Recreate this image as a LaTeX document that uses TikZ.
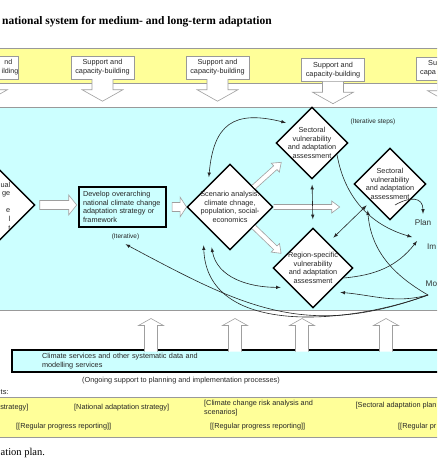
\documentclass[tikz,border=0pt]{standalone}
\usepackage{fontspec}
\setmainfont{Liberation Serif}
\setsansfont{Liberation Sans}
\usepackage{tikz}
\usepackage{xcolor}
\usetikzlibrary{arrows.meta,shapes.geometric}
\definecolor{lightcyan}{RGB}{204,255,255}
\definecolor{paleyellow}{RGB}{255,255,153}

\begin{document}
\begin{tikzpicture}[x=1pt,y=1pt,
        lbl/.style={font=\sffamily\fontsize{7.3}{8.6}\selectfont, inner sep=0pt, text=black!85},
        supbox/.style={lbl, draw=gray!80, fill=white, minimum width=63pt, minimum height=23pt, align=center, font=\sffamily\fontsize{7.3}{9}\selectfont},
        assess/.style={lbl, diamond, draw=black, fill=white, line width=1.4pt, inner sep=-8pt, align=center, font=\sffamily\fontsize{7.3}{8.5}\selectfont},
        side/.style={lbl, font=\sffamily\fontsize{8.2}{10}\selectfont, text=black!80},
        blockarr/.style={fill=white, draw=gray!75, line width=0.6pt},
        conn/.style={black!85, line width=0.6pt}]
                \useasboundingbox (0,0) rectangle (437,-461);
                \clip (0,0) rectangle (437,-461);
                \node[anchor=west, inner sep=0pt, font=\bfseries\fontsize{11.5}{13}\selectfont] (title) at (2,-22) {national system for medium- and long-term adaptation};
                \filldraw[fill=paleyellow, draw=gray!80] (-5,-48) rectangle (445,-83);
                \filldraw[fill=lightcyan, draw=gray!80] (-5,-107) rectangle (445,-310);
                \filldraw[fill=paleyellow, draw=gray!80] (-5,-397) rectangle (445,-437);
                \node[supbox] (sup1) at (-13,-67.5) {};
                \node[lbl, anchor=east, align=right, font=\sffamily\fontsize{7.1}{9}\selectfont] (sup1txt) at (18.5,-67.5) {nd\rule{6pt}{0pt}\\ilding};
                \node[supbox] (sup2) at (102.5,-67.5) {Support and\\capacity-building};
                \node[supbox] (sup3) at (217.5,-67.5) {Support and\\capacity-building};
                \node[supbox] (sup4) at (333,-70) {Support and\\capacity-building};
                \node[supbox] (sup5) at (448,-68.5) {};
                \node[lbl, anchor=west, align=left, font=\sffamily\fontsize{7.3}{9}\selectfont] (sup5txt) at (420,-68.5) {\rule{8pt}{0pt}Su\\capa};
                \filldraw[blockarr] ([xshift=-10.5pt]sup1.south) -- ++(0,-10.5) -- ++(-10,0) -- ++(20.5,-11.5) -- ++(20.5,11.5) -- ++(-10,0) -- ++(0,10.5);
                \filldraw[blockarr] ([xshift=-10.5pt]sup2.south) -- ++(0,-10.5) -- ++(-10,0) -- ++(20.5,-11.5) -- ++(20.5,11.5) -- ++(-10,0) -- ++(0,10.5);
                \filldraw[blockarr] ([xshift=-10.5pt]sup3.south) -- ++(0,-10.5) -- ++(-10,0) -- ++(20.5,-11.5) -- ++(20.5,11.5) -- ++(-10,0) -- ++(0,10.5);
                \filldraw[blockarr] ([xshift=-10.5pt]sup4.south) -- ++(0,-10.5) -- ++(-10,0) -- ++(20.5,-11.5) -- ++(20.5,11.5) -- ++(-10,0) -- ++(0,10.5);
                \filldraw[blockarr] ([xshift=-10.5pt]sup5.south) -- ++(0,-10.5) -- ++(-10,0) -- ++(20.5,-11.5) -- ++(20.5,11.5) -- ++(-10,0) -- ++(0,10.5);
                \node[diamond, draw=black, fill=white, line width=1.4pt, minimum width=94pt, minimum height=94pt, inner sep=0pt] (init) at (-12,-205) {};
                \node[lbl, anchor=east, align=right] (inittxt) at (10.5,-206) {ual\\ge\\[8.6pt]e\\l\\t};
                \node[lbl, draw=black, line width=1.1pt, text width=79pt, inner xsep=4pt, minimum height=40pt, align=left, font=\sffamily\fontsize{7.3}{8.7}\selectfont] (dev) at (122.5,-207) {Develop overarching\\national climate change\\adaptation strategy or\\framework};
                \node[lbl, font=\sffamily\fontsize{6.5}{8}\selectfont] (iter) at (125.5,-237) {(Iterative)};
                \filldraw[blockarr] ([shift={(4pt,4.5pt)}]init.east) -- ++(29,0) -- ++(0,5.5) -- ++(8,-10) -- ++(-8,-10) -- ++(0,5.5) -- ++(-29,0) -- cycle;
                \filldraw[blockarr] ([shift={(5.5pt,4.5pt)}]dev.east) -- ++(8,0) -- ++(0,5.5) -- ++(6.5,-10) -- ++(-6.5,-10) -- ++(0,5.5) -- ++(-8,0) -- cycle;
                \node[assess, minimum width=86pt, minimum height=86pt] (scen) at (230,-207) {Scenario analysis:\\climate chnage,\\population, social-\\economics};
                \node[assess, minimum width=72pt, minimum height=72pt] (sec1) at (312,-143) {Sectoral\\vulnerability\\and adaptation\\assessment};
                \node[assess, minimum width=72pt, minimum height=72pt] (sec2) at (390,-184) {Sectoral\\vulnerability\\and adaptation\\assessment};
                \node[assess, minimum width=80pt, minimum height=80pt] (reg) at (313,-268) {Region-specific\\vulnerability\\and adaptation\\assessment};
                \node[lbl, font=\sffamily\fontsize{6.5}{8}\selectfont] (steps) at (373,-122) {(Iterative steps)};
                \node[side] (plan) at (423,-223) {Plan};
                \node[side, anchor=west] (imp) at (427,-247) {Im};
                \node[side, anchor=west] (mo) at (425.5,-284) {Mo};
                \begin{scope}[shift={(scen.40)}, rotate=42]
                \filldraw[blockarr] (0,-2.5) -- (29,-2.5) -- (29,-6) -- (37,0) -- (29,6) -- (29,2.5) -- (0,2.5);
                \end{scope}
                \begin{scope}[shift={(scen.east)}]
                \filldraw[blockarr] (0,-2.5) -- (58,-2.5) -- (58,-6) -- (66,0) -- (58,6) -- (58,2.5) -- (0,2.5);
                \end{scope}
                \begin{scope}[shift={(scen.-40)}, rotate=-44]
                \filldraw[blockarr] (0,-2.5) -- (30,-2.5) -- (30,-6) -- (38,0) -- (30,6) -- (30,2.5) -- (0,2.5);
                \end{scope}
                \draw[conn, latex-latex, shorten <=8pt, shorten >=8pt] (scen.north west) to[out=85, in=166, looseness=1.5] (sec1.north west);
                \draw[conn, latex-latex, shorten <=5pt, shorten >=8pt] (sec1.south) -- (reg.north);
                \draw[conn, latex-latex] ([yshift=10pt]reg.north east) -- ([shift={(-5pt,-3pt)}]sec2.south west);
                \draw[conn, -latex] (sec1.-25) to[out=-80, in=164] ([shift={(-15pt,10pt)}]imp.west);
                \draw[conn, -latex] ([shift={(5pt,-21pt)}]sec2.center) to[out=30, in=90, looseness=1.5] ([yshift=6pt]plan.north);
                \draw[conn, -latex] (reg.-18) to[out=5, in=232] ([shift={(-10pt,6pt)}]imp.west);
                \coordinate (mon) at ([shift={(2.5pt,-11pt)}]mo.west);
                \draw[conn, -latex] (mon) to[out=195, in=-5] ([shift={(7pt,-4pt)}]reg.south east);
                \draw[conn, -latex] (mon) to[out=150, in=-85] ([shift={(-4pt,-8pt)}]sec2.south west);
                \draw[conn, -latex] (mon) to[out=200, in=-28, looseness=1.1] ([yshift=-4pt]iter.south);
                \draw[conn, -latex] (mon) to[out=200, in=-88] ([shift={(-4.5pt,-16.5pt)}]scen.south west);
                \draw[conn, latex-latex] ([shift={(3.5pt,-18.5pt)}]scen.south west) to[out=-80, in=180] ([shift={(-12pt,1pt)}]reg.south west);
                \node[lbl, draw=black, line width=1.2pt, fill=lightcyan, text width=373pt, inner xsep=30pt, minimum height=22pt, align=left, font=\sffamily\fontsize{7.3}{8.7}\selectfont] (clim) at (228.5,-361) {Climate services and other systematic data and\\modelling services};
                \filldraw[blockarr] (144.5,-351.5) -- ++(0,26) -- ++(-6,0) -- ++(12.5,7) -- ++(12.5,-7) -- ++(-6,0) -- ++(0,-26);
                \filldraw[blockarr] (228.5,-351.5) -- ++(0,26) -- ++(-6,0) -- ++(12.5,7) -- ++(12.5,-7) -- ++(-6,0) -- ++(0,-26);
                \filldraw[blockarr] (295.5,-351.5) -- ++(0,26) -- ++(-6,0) -- ++(12.5,7) -- ++(12.5,-7) -- ++(-6,0) -- ++(0,-26);
                \filldraw[blockarr] (379.5,-351.5) -- ++(0,26) -- ++(-6,0) -- ++(12.5,7) -- ++(12.5,-7) -- ++(-6,0) -- ++(0,-26);
                \node[lbl] (ongo) at (181,-381) {(Ongoing support to planning and implementation processes)};
                \node[lbl, anchor=west, font=\sffamily\fontsize{7.5}{9}\selectfont] (outs) at (0.5,-392) {ts:};
                \node[lbl, anchor=east] (out1) at (28.5,-408) {strategy]};
                \node[lbl, anchor=west] (out2) at (74,-408) {[National adaptation strategy]};
                \node[lbl, anchor=west, align=left, font=\sffamily\fontsize{7.3}{9.5}\selectfont] (out3) at (204,-408) {[Climate change risk analysis and\\scenarios]};
                \node[lbl, anchor=west] (out4) at (355.5,-406) {[Sectoral adaptation plan};
                \node[lbl, anchor=west] (rep1) at (16,-427) {[[Regular progress reporting]]};
                \node[lbl, anchor=west] (rep2) at (210,-427) {[[Regular progress reporting]]};
                \node[lbl, anchor=west] (rep3) at (398,-427) {[[Regular pr};
                \node[anchor=west, inner sep=0pt, font=\fontsize{10.5}{12}\selectfont] (note) at (0.5,-453) {ation plan.};
            \end{tikzpicture}
\end{document}
